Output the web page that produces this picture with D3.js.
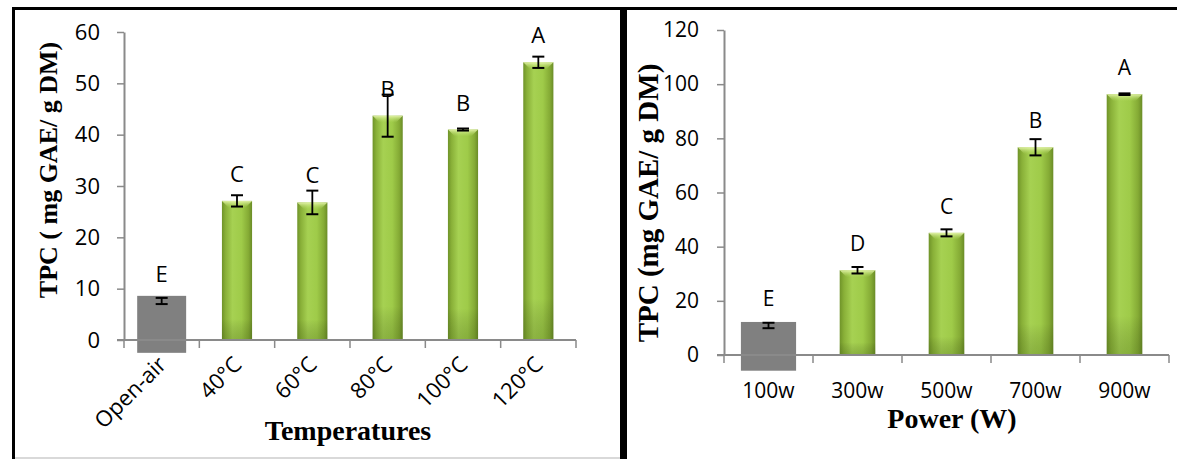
<!DOCTYPE html>
<html>
<head>
<meta charset="utf-8">
<script src="https://cdn.jsdelivr.net/npm/d3@7"></script>
<style>
  html, body { margin: 0; padding: 0; background: #ffffff; }
  svg { display: block; }
</style>
</head>
<body>
<svg id="chart" width="1177" height="459"></svg>
<script>
// ---------- data ----------
const leftCategories = ["Open-air", "40°C", "60°C", "80°C", "100°C", "120°C"];
const leftValues = [7.6, 27.1, 26.8, 43.7, 41.0, 54.1];
const leftErrors = [0.6, 1.1, 2.3, 4.1, 0.2, 1.1];
const leftLetters = ["E", "C", "C", "B", "B", "A"];
const leftTicks = [0, 10, 20, 30, 40, 50, 60];
const leftControlBox = [-2.5, 8.6];

const rightCategories = ["100w", "300w", "500w", "700w", "900w"];
const rightValues = [10.9, 31.3, 45.1, 76.7, 96.3];
const rightErrors = [1.0, 1.2, 1.3, 3.0, 0.3];
const rightLetters = ["E", "D", "C", "B", "A"];
const rightTicks = [0, 20, 40, 60, 80, 100, 120];
const rightControlBox = [-5.8, 12.2];

const leftYTitle = "TPC ( mg GAE/ g DM)";
const leftXTitle = "Temperatures";
const rightYTitle = "TPC (mg GAE/ g DM)";
const rightXTitle = "Power (W)";

// ---------- drawing ----------
const svg = d3.select("#chart");
const defs = svg.append("defs");

const g1 = defs.append("linearGradient").attr("id", "greenH").attr("x1", "0").attr("x2", "1").attr("y1", "0").attr("y2", "0");
[["0%", "#6f9329"], ["12%", "#89b038"], ["35%", "#a6d152"], ["65%", "#9fcb49"], ["88%", "#85ab35"], ["100%", "#6a8c27"]]
  .forEach(([o, c]) => g1.append("stop").attr("offset", o).attr("stop-color", c));
const g2 = defs.append("linearGradient").attr("id", "greenV").attr("x1", "0").attr("x2", "0").attr("y1", "0").attr("y2", "1");
[["0%", "#ffffff", 0], ["85%", "#000000", 0], ["100%", "#2f4a0a", 0.22]]
  .forEach(([o, c, op]) => g2.append("stop").attr("offset", o).attr("stop-color", c).attr("stop-opacity", op));
const g3 = defs.append("linearGradient").attr("id", "capG").attr("x1", "0").attr("x2", "0").attr("y1", "0").attr("y2", "1");
[["0%", "#e6f5ad", 0.95], ["100%", "#b5dc62", 0.0]]
  .forEach(([o, c, op]) => g3.append("stop").attr("offset", o).attr("stop-color", c).attr("stop-opacity", op));

// panel frames
const frame = svg.append("g");
frame.append("rect").attr("x", 12).attr("y", 7).attr("width", 1177).attr("height", 3).attr("fill", "#000");
frame.append("rect").attr("x", 12).attr("y", 7).attr("width", 3).attr("height", 452).attr("fill", "#000");
frame.append("rect").attr("x", 620).attr("y", 7).attr("width", 7).attr("height", 452).attr("fill", "#000");
frame.append("rect").attr("x", 15).attr("y", 457).attr("width", 605).attr("height", 2).attr("fill", "#d9d9d9");

const tickFont = "'Open Sans', 'Noto Sans', sans-serif";
const titleFont = "'Liberation Serif', 'Times New Roman', serif";
const axisColor = "#8a8a8a";

function drawPanel(cfg) {
  const g = svg.append("g");
  const x = d3.scaleBand().domain(cfg.cats).range(cfg.xRange).padding(0);
  const y = d3.scaleLinear().domain([cfg.ticks[0], cfg.ticks[cfg.ticks.length - 1]]).range(cfg.yRange);

  // y axis
  const yAxis = g.append("g").attr("transform", `translate(${cfg.xRange[0]},0)`)
    .call(d3.axisLeft(y).tickValues(cfg.ticks).tickSize(7).tickSizeOuter(0).tickPadding(cfg.yPad));
  yAxis.select(".domain").attr("stroke", axisColor).attr("stroke-width", 2);
  yAxis.selectAll(".tick line").attr("stroke", axisColor).attr("stroke-width", 1.5);
  yAxis.selectAll(".tick text").attr("fill", "#000").style("font-family", tickFont).style("font-size", cfg.tickSize + "px");

  // control (grey) box
  const c0 = cfg.cats[0];
  const cw = x.bandwidth() * cfg.greyFrac;
  g.append("rect")
    .attr("x", x(c0) + (x.bandwidth() - cw) / 2)
    .attr("y", y(cfg.box[1]))
    .attr("width", cw)
    .attr("height", y(cfg.box[0]) - y(cfg.box[1]))
    .attr("fill", "#808080");

  // green bars
  const bw = x.bandwidth() * cfg.greenFrac;
  const greens = cfg.cats.slice(1).map((c, i) => ({ c, v: cfg.vals[i + 1] }));
  const bars = g.selectAll("g.bar").data(greens).enter().append("g").attr("class", "bar");
  bars.append("rect")
    .attr("x", d => x(d.c) + (x.bandwidth() - bw) / 2)
    .attr("y", d => y(d.v))
    .attr("width", bw)
    .attr("height", d => y(0) - y(d.v))
    .attr("fill", "url(#greenH)");
  bars.append("rect")
    .attr("x", d => x(d.c) + (x.bandwidth() - bw) / 2)
    .attr("y", d => y(d.v))
    .attr("width", bw)
    .attr("height", d => y(0) - y(d.v))
    .attr("fill", "url(#greenV)");
  // bevel highlight on top
  bars.append("path")
    .attr("d", d => {
      const x0 = x(d.c) + (x.bandwidth() - bw) / 2, x1 = x0 + bw, t = y(d.v), b = 7;
      return `M${x0},${t}L${x1},${t}L${x1 - b},${t + b}L${x0 + b},${t + b}Z`;
    })
    .attr("fill", "url(#capG)");

  // x axis line and category boundary ticks
  g.append("line").attr("x1", cfg.xRange[0] - 7).attr("x2", cfg.xRange[1])
    .attr("y1", y(0)).attr("y2", y(0)).attr("stroke", axisColor).attr("stroke-width", 2);
  const bounds = cfg.cats.map(c => x(c)).concat([x(cfg.cats[cfg.cats.length - 1]) + x.bandwidth()]);
  g.selectAll("line.xt").data(bounds).enter().append("line").attr("class", "xt")
    .attr("x1", d => d).attr("x2", d => d)
    .attr("y1", y(0)).attr("y2", y(0) + 8)
    .attr("stroke", axisColor).attr("stroke-width", 1.5);

  // error bars
  const eb = g.selectAll("g.err").data(cfg.cats.map((c, i) => ({ c, v: cfg.vals[i], e: cfg.errs[i], l: cfg.letters[i] })))
    .enter().append("g").attr("class", "err");
  const cx = d => x(d.c) + x.bandwidth() / 2;
  eb.append("line").attr("x1", cx).attr("x2", cx).attr("y1", d => y(d.v + d.e)).attr("y2", d => y(d.v - d.e))
    .attr("stroke", "#000").attr("stroke-width", 1.8);
  [1, -1].forEach(s => {
    eb.append("line").attr("x1", d => cx(d) - 6).attr("x2", d => cx(d) + 6)
      .attr("y1", d => y(d.v + s * d.e)).attr("y2", d => y(d.v + s * d.e))
      .attr("stroke", "#000").attr("stroke-width", 2);
  });
  // letters
  eb.append("text").attr("x", cx).attr("y", d => y(d.v) - 19)
    .attr("text-anchor", "middle").style("font-family", tickFont).style("font-size", cfg.tickSize + "px")
    .text(d => d.l);

  // category labels
  if (cfg.rotate) {
    g.selectAll("text.cat").data(cfg.cats).enter().append("text").attr("class", "cat")
      .attr("transform", d => `translate(${x(d) + x.bandwidth() / 2 + 6},${y(0) + 26}) rotate(-45)`)
      .attr("text-anchor", "end")
      .style("font-family", tickFont).style("font-size", cfg.tickSize + "px")
      .text(d => d);
  } else {
    g.selectAll("text.cat").data(cfg.cats).enter().append("text").attr("class", "cat")
      .attr("x", d => x(d) + x.bandwidth() / 2).attr("y", y(0) + 43)
      .attr("text-anchor", "middle")
      .style("font-family", tickFont).style("font-size", cfg.tickSize + "px")
      .text(d => d);
  }

  // axis titles
  g.append("text")
    .attr("transform", `translate(${cfg.yTitlePos[0]},${cfg.yTitlePos[1]}) rotate(-90)`)
    .attr("text-anchor", "middle").style("font-family", titleFont).style("font-weight", "bold")
    .style("font-size", cfg.yTitleSize + "px").text(cfg.yTitle);
  g.append("text")
    .attr("x", cfg.xTitlePos[0]).attr("y", cfg.xTitlePos[1])
    .attr("text-anchor", "middle").style("font-family", titleFont).style("font-weight", "bold")
    .style("font-size", cfg.xTitleSize + "px").text(cfg.xTitle);
}

drawPanel({
  cats: leftCategories, vals: leftValues, errs: leftErrors, letters: leftLetters, ticks: leftTicks,
  box: leftControlBox, xRange: [124, 576], yRange: [340, 32], yPad: 17, tickSize: 22,
  greyFrac: 0.65, greenFrac: 0.4, rotate: true,
  yTitle: leftYTitle, yTitlePos: [57, 170], yTitleSize: 26,
  xTitle: leftXTitle, xTitlePos: [348, 440], xTitleSize: 28
});

drawPanel({
  cats: rightCategories, vals: rightValues, errs: rightErrors, letters: rightLetters, ticks: rightTicks,
  box: rightControlBox, xRange: [724, 1169], yRange: [355, 30], yPad: 18, tickSize: 21,
  greyFrac: 0.62, greenFrac: 0.4, rotate: false,
  yTitle: rightYTitle, yTitlePos: [658, 203], yTitleSize: 29,
  xTitle: rightXTitle, xTitlePos: [952, 428], xTitleSize: 28
});
</script>
</body>
</html>
